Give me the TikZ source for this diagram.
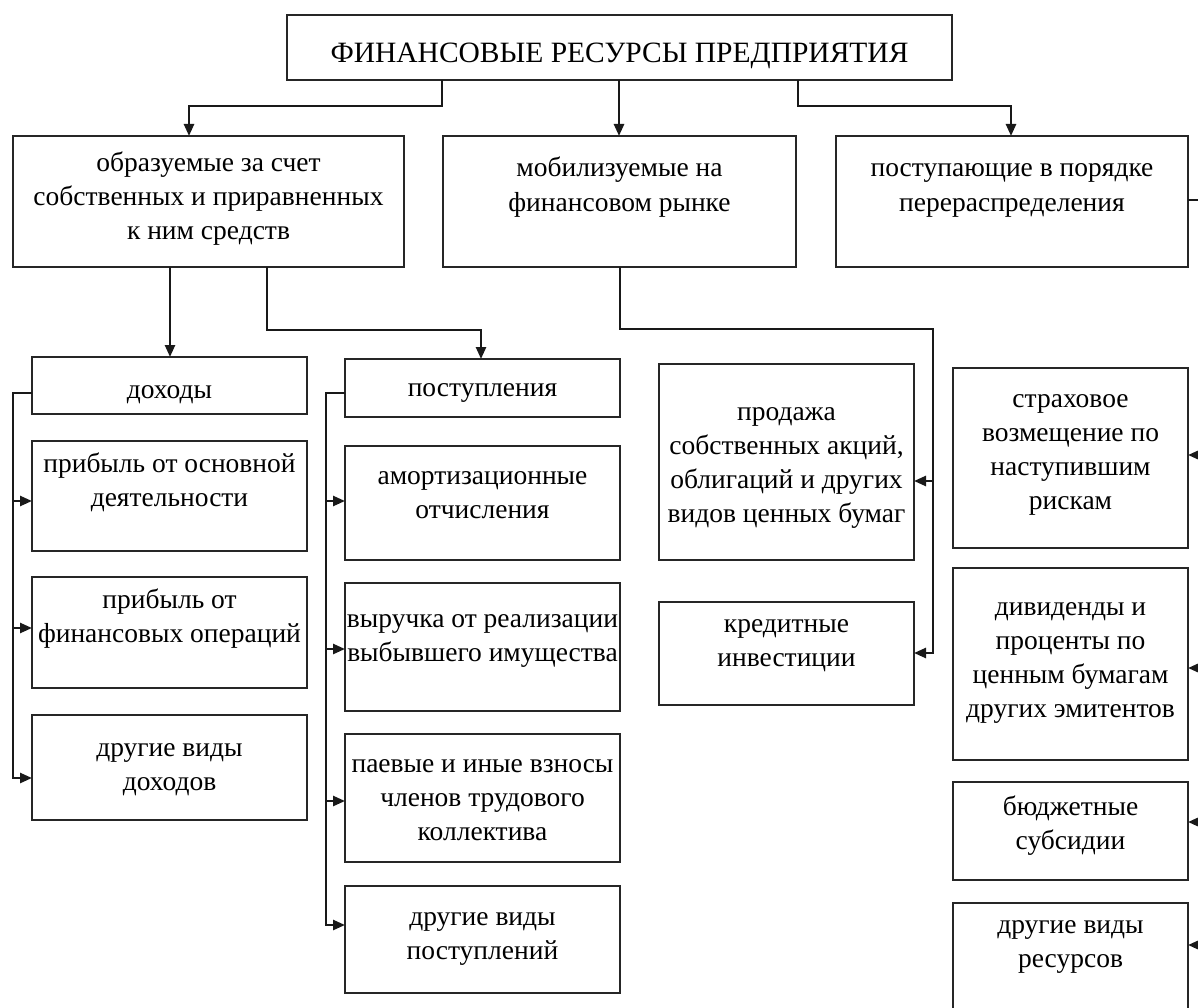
\documentclass[tikz,border=0pt]{standalone}
\usepackage{fontspec}
\setmainfont{Liberation Serif}
\usetikzlibrary{arrows.meta}
\tikzset{
  bx/.style={draw=black!85, line width=1.6pt, anchor=north west, inner sep=0pt, outer sep=0pt,
    font=\fontsize{27.5}{34}\selectfont},
  conn/.style={line width=2.5pt, draw=black!90},
  arr/.style={-{Triangle[length=12pt,width=10pt]}}
}
% name, x1, y1, x2, y2, first baseline, text
\newcommand\bxn[8][]{\node[bx,#1] (#2) at (#3,#4) {\parbox[c][\dimexpr #6pt-#4pt\relax][t]{\dimexpr #5pt-#3pt\relax}{\centering\vspace*{\dimexpr #7pt-#4pt-\ht\strutbox\relax}\strut #8\par}};}
\begin{document}
\begin{tikzpicture}[x=1pt,y=-1pt]
\useasboundingbox (0,0) rectangle (1198,1008);
% top
\bxn[font=\fontsize{29.5}{34}\selectfont]{top}{287}{15}{952}{80}{63}{ФИНАНСОВЫЕ РЕСУРСЫ ПРЕДПРИЯТИЯ}
% level 2
\bxn{lbox}{13}{136}{404}{267}{172}{образуемые за счет\\собственных и приравненных\\к ним средств}
\bxn{mbox}{443}{136}{796}{267}{177}{мобилизуемые на\\финансовом рынке}
\bxn{rbox}{836}{136}{1188}{267}{177}{поступающие в порядке\\перераспределения}
% column 1
\bxn{dohody}{32}{357}{307}{414}{398}{доходы}
\bxn{d1}{32}{441}{307}{551}{472}{прибыль от основной\\деятельности}
\bxn{d2}{32}{577}{307}{688}{608}{прибыль от\\финансовых операций}
\bxn{d3}{32}{715}{307}{820}{756}{другие виды\\доходов}
% column 2
\bxn{postup}{345}{359}{620}{417}{396}{поступления}
\bxn{p1}{345}{446}{620}{560}{484}{амортизационные\\отчисления}
\bxn{p2}{345}{583}{620}{711}{627}{выручка от реализации\\выбывшего имущества}
\bxn{p3}{345}{734}{620}{862}{772}{паевые и иные взносы\\членов трудового\\коллектива}
\bxn{p4}{345}{886}{620}{993}{925}{другие виды\\поступлений}
% column 3
\bxn{prodazha}{659}{364}{914}{560}{420}{продажа\\собственных акций,\\облигаций и других\\видов ценных бумаг}
\bxn{kredit}{659}{602}{914}{705}{632}{кредитные\\инвестиции}
% column 4
\bxn{strakh}{953}{368}{1188}{548}{407}{страховое\\возмещение по\\наступившим\\рискам}
\bxn{divid}{953}{568}{1188}{760}{615}{дивиденды и\\проценты по\\ценным бумагам\\других эмитентов}
\bxn{budget}{953}{782}{1188}{880}{815}{бюджетные\\субсидии}
\bxn{rother}{953}{903}{1188}{1030}{933}{другие виды\\ресурсов}
% connectors from top
\draw[conn,arr] (top.south -| 442,0) |- (189,106) -- (lbox.north -| 189,0);
\draw[conn,arr] (top.south -| 619,0) -- (mbox.north -| 619,0);
\draw[conn,arr] (top.south -| 798,0) |- (1011,106) -- (rbox.north -| 1011,0);
% level 2 to level 3
\draw[conn,arr] (lbox.south -| 170,0) -- (dohody.north -| 170,0);
\draw[conn,arr] (lbox.south -| 267,0) |- (481,330) -- (postup.north -| 481,0);
\coordinate (mt) at (933,481);
\draw[conn,arr] (mbox.south -| 620,0) |- (933,329) |- (kredit.east |- 0,653);
\draw[conn,arr] (mt) -- (prodazha.east |- mt);
% column 1 trunk
\draw[conn,arr] (dohody.west |- 0,393) -| (13,778) -- (d3.west |- 0,778);
\draw[conn,arr] (13,501) -- (d1.west |- 0,501);
\draw[conn,arr] (13,628) -- (d2.west |- 0,628);
% column 2 trunk
\draw[conn,arr] (postup.west |- 0,393) -| (326,925) -- (p4.west |- 0,925);
\draw[conn,arr] (326,501) -- (p1.west |- 0,501);
\draw[conn,arr] (326,649) -- (p2.west |- 0,649);
\draw[conn,arr] (326,801) -- (p3.west |- 0,801);
% right trunk (beyond the edge)
\coordinate (rt) at (1206,200);
\draw[conn] (rbox.east |- rt) -- (rt) -- (1206,945);
\draw[conn,arr] (1206,455) -- (strakh.east |- 0,455);
\draw[conn,arr] (1206,668) -- (divid.east |- 0,668);
\draw[conn,arr] (1206,822) -- (budget.east |- 0,822);
\draw[conn,arr] (1206,945) -- (rother.east |- 0,945);
\end{tikzpicture}
\end{document}
